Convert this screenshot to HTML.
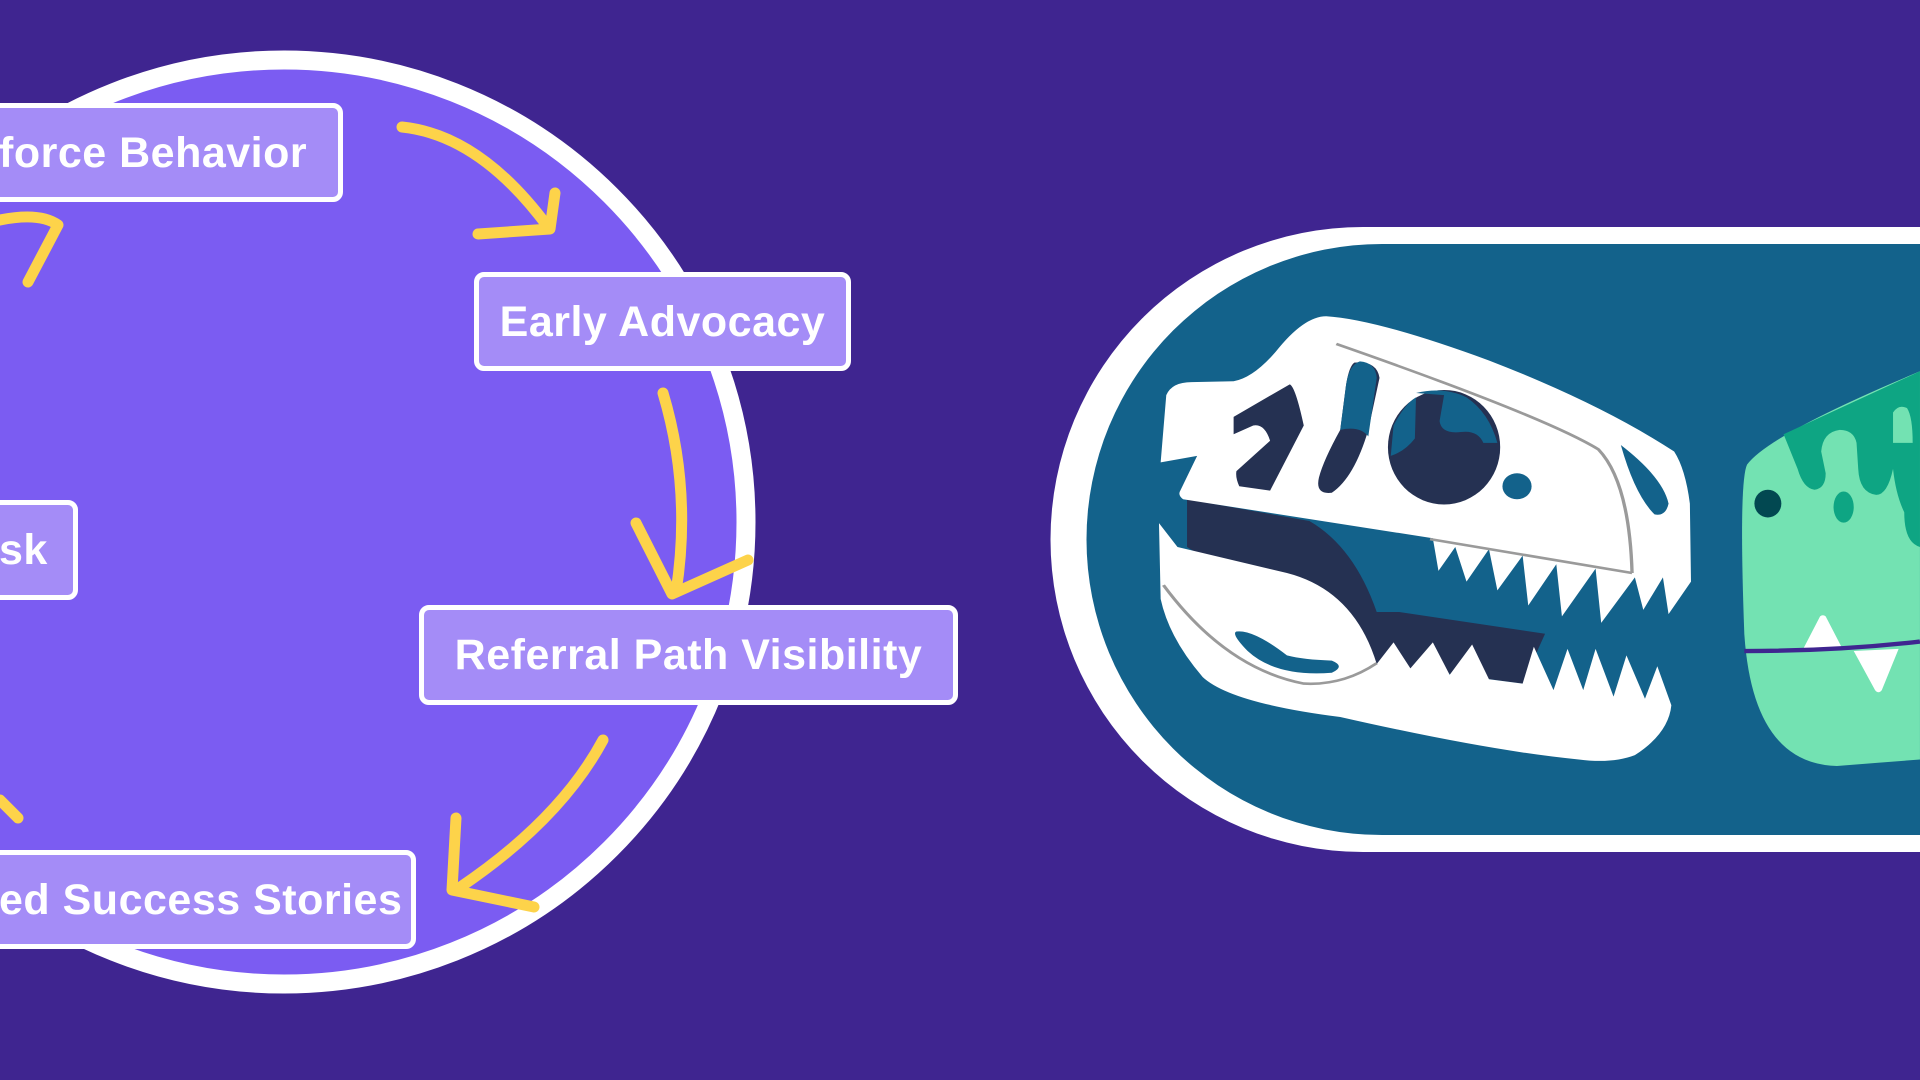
<!DOCTYPE html>
<html><head><meta charset="utf-8"><style>
html,body{margin:0;padding:0;width:1920px;height:1080px;overflow:hidden;background:#3f2590;}
.box{position:absolute;background:#a48cf7;border:5px solid #fff;border-radius:10px;box-sizing:border-box;color:#fff;font-family:"Liberation Sans",sans-serif;font-weight:bold;font-size:43px;letter-spacing:0.5px;line-height:90px;white-space:nowrap;}
</style></head><body>
<svg width="1920" height="1080" style="position:absolute;left:0;top:0">
  <circle cx="284" cy="522" r="462" fill="#7b5cf2" stroke="#fff" stroke-width="19"/>
  <g fill="none" stroke="#fdd34a" stroke-width="11" stroke-linecap="round" stroke-linejoin="round">
    <path d="M402,127 Q480,135 548,227"/>
    <path d="M478,234 L550,229 L555,193"/>
    <path d="M663,393 Q692,490 676,592"/>
    <path d="M636,523 L672,594 L748,560"/>
    <path d="M603,740 Q560,820 459,888"/>
    <path d="M456,818 L452,890 L534,907"/>
    <path d="M0,220 Q40,212 58,225 L28,282"/>
    <path d="M0,800 L18,818"/>
  </g>
  <path d="M1363,227 L1920,227 L1920,852 L1363,852 A312,312 0 0 1 1363,227 Z" fill="#fff"/>
  <path d="M1382,244 L1920,244 L1920,835 L1382,835 A295,295 0 0 1 1382,244 Z" fill="#13628b"/>
  <g transform="translate(1040,200) scale(0.5612,0.4337)">
    <path d="M262,690 L480,740 Q560,800 600,950 L640,950 L900,1000 L860,1115 L600,1070 L262,800 Z" fill="#253152"/>
    <path d="M215,605 L225,450 Q235,420 270,420 L345,418 Q380,410 420,350 Q470,268 510,268 Q600,275 800,370 Q1000,470 1130,580 Q1150,620 1158,700 L1160,880 L1120,955 L1110,870 L1075,945 L1060,870 L1000,975 L990,850 L930,960 L920,840 L870,935 L860,820 L815,900 L800,805 L760,880 L740,800 L710,855 L700,780 L255,690 Q245,680 250,670 L280,590 Z" fill="#fff"/>
    <path d="M212,745 L245,800 L440,860 Q560,900 600,1070 L630,1020 L660,1080 L700,1020 L730,1095 L770,1025 L800,1105 L860,1115 L880,1030 L915,1130 L940,1035 L968,1130 L990,1035 L1022,1145 L1045,1050 L1078,1150 L1100,1075 L1125,1165 Q1120,1230 1060,1280 Q1020,1300 960,1290 Q800,1270 535,1192 Q340,1160 290,1100 Q230,1010 215,920 Z" fill="#fff"/>
    <path d="M350,995 Q380,990 440,1050 Q470,1060 520,1062 Q545,1075 520,1090 Q420,1100 370,1040 Q340,1000 350,995 Z" fill="#13628b"/>
    <ellipse cx="720" cy="570" rx="100" ry="132" fill="#253152"/>
    <path d="M670,445 Q720,430 760,455 Q800,490 815,560 L790,560 Q780,530 750,535 Q715,540 712,510 L720,450 Z M630,520 Q650,470 670,455 L668,550 Q650,580 625,590 Z" fill="#13628b"/>
    <path d="M345,500 L445,425 Q455,430 470,520 L410,670 L355,660 Q348,640 350,625 L410,555 Q400,515 380,520 L345,540 Z" fill="#253152"/>
    <path d="M560,375 Q600,370 605,410 L585,530 Q560,640 520,675 Q490,680 497,640 Q505,600 535,530 L545,430 Q550,385 560,375 Z" fill="#253152"/>
    <path d="M535,530 Q570,520 585,545 L600,410 Q598,375 570,372 Q550,380 545,430 Z" fill="#13628b"/>
    <ellipse cx="850" cy="660" rx="26" ry="30" fill="#13628b"/>
    <path d="M1035,565 Q1110,640 1120,700 Q1115,730 1095,725 Q1060,680 1035,565 Z" fill="#13628b"/>
    <g fill="none" stroke="#9a9a9a" stroke-width="6">
      <path d="M528,332 Q900,500 995,575 Q1050,650 1055,860"/>
      <path d="M695,782 L1055,860"/>
      <path d="M220,888 Q330,1080 470,1115 Q540,1120 600,1068"/>
    </g>
    <path d="M1260,610 Q1245,650 1255,1000 Q1270,1300 1420,1305 L1568,1290 L1568,395 Q1300,540 1260,610 Z" fill="#73e2b2"/>
    <path d="M1325,540 L1568,395 L1568,800 Q1540,790 1540,720 Q1525,680 1520,620 Q1510,680 1490,680 Q1460,675 1458,620 L1455,560 Q1450,530 1425,530 Q1395,535 1392,580 L1400,630 Q1400,665 1380,668 Q1360,665 1350,620 Z" fill="#0ea583"/>
    <path d="M1520,490 Q1530,470 1545,480 Q1555,500 1555,560 L1520,560 Z" fill="#73e2b2"/>
    <ellipse cx="1432" cy="708" rx="18" ry="36" fill="#0ea583"/>
    <ellipse cx="1297" cy="700" rx="24" ry="32" fill="#024851"/>
    <path d="M1360,1035 L1390,960 Q1395,955 1400,960 L1430,1035 Z M1450,1040 L1530,1035 L1500,1130 Q1494,1140 1488,1130 Z" fill="#fff"/>
    <path d="M1255,1040 Q1420,1040 1568,1018" fill="none" stroke="#3f2590" stroke-width="10"/>
  </g>
</svg>
<div class="box" style="left:-20px;top:103px;width:363px;height:99px;padding-left:14px;">force Behavior</div>
<div class="box" style="left:474px;top:272px;width:377px;height:99px;text-align:center;">Early Advocacy</div>
<div class="box" style="left:-20px;top:500px;width:98px;height:100px;padding-left:14px;">sk</div>
<div class="box" style="left:419px;top:605px;width:539px;height:100px;text-align:center;">Referral Path Visibility</div>
<div class="box" style="left:-20px;top:850px;width:436px;height:99px;padding-left:14px;">ed Success Stories</div>
</body></html>
